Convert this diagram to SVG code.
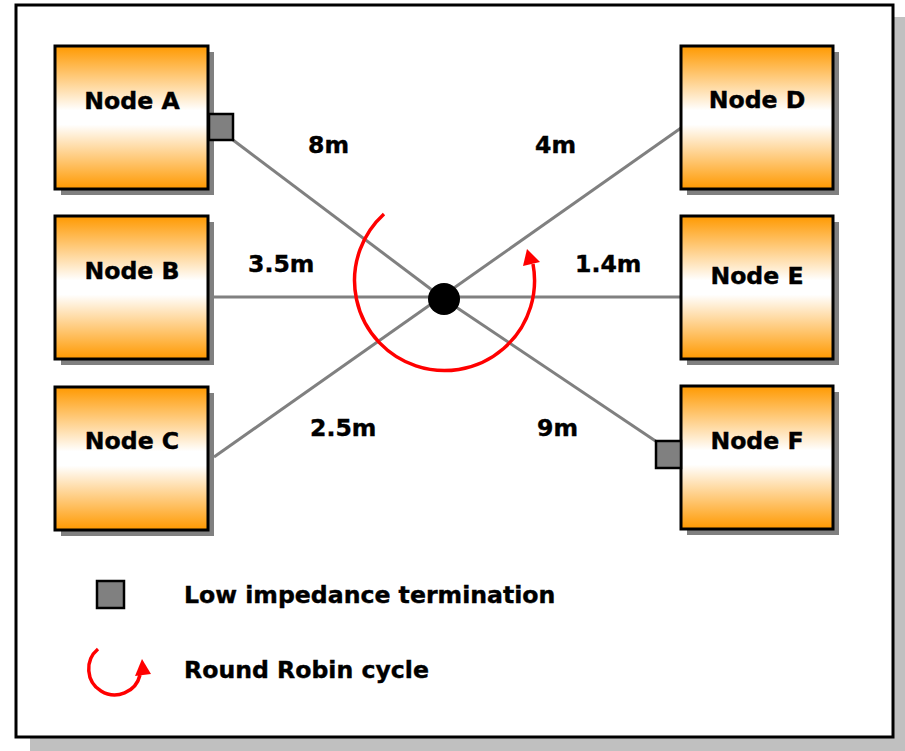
<svg xmlns="http://www.w3.org/2000/svg" width="905" height="751" viewBox="0 0 905 751">
<defs>
<linearGradient id="og" x1="0" y1="0" x2="0" y2="1">
<stop offset="0" stop-color="#ff9900"/>
<stop offset="0.45" stop-color="#ffffff"/>
<stop offset="0.55" stop-color="#ffffff"/>
<stop offset="1" stop-color="#ff9900"/>
</linearGradient>
</defs>
<style>
.shadow{fill:#808080}
.box{fill:url(#og);stroke:#000;stroke-width:3}
.term{fill:#808080;stroke:#000;stroke-width:2.5}
.lbl{font-family:"DejaVu Sans",Verdana,sans-serif;font-weight:bold;font-size:23.6px;fill:#000;stroke:#000;stroke-width:0.4}
.nt{text-anchor:middle}
.wire{stroke:#808080;stroke-width:3;fill:none}
.rr{stroke:#ff0000;stroke-width:3.5;fill:none}
</style>
<rect x="30" y="17" width="875" height="734" fill="#c0c0c0"/>
<rect x="16" y="5" width="877" height="732" fill="#fff" stroke="#000" stroke-width="3"/>

<g id="connectors">
<line class="wire" x1="233" y1="140" x2="444" y2="299"/>
<line class="wire" x1="209" y1="297" x2="681" y2="297"/>
<line class="wire" x1="214" y1="457" x2="681" y2="128"/>
<line class="wire" x1="444" y1="299" x2="657" y2="442"/>
<circle cx="444" cy="299" r="16" fill="#000"/>
<path class="rr" d="M384,214 A90,90 0 1,0 533,264"/>
<polygon points="527,249 523,266 540,262" fill="#ff0000"/>
</g>

<g id="nodeA">
<rect class="shadow" x="61" y="52" width="153" height="143"/>
<rect class="box" x="55" y="46" width="153" height="143"/>
<text class="lbl nt" x="132" y="109">Node A</text>
<rect class="term" x="209" y="114" width="24" height="26"/>
</g>
<g id="nodeB">
<rect class="shadow" x="61" y="222" width="153" height="143"/>
<rect class="box" x="55" y="216" width="153" height="143"/>
<text class="lbl nt" x="132" y="279">Node B</text>
</g>
<g id="nodeC">
<rect class="shadow" x="61" y="393" width="153" height="143"/>
<rect class="box" x="55" y="387" width="153" height="143"/>
<text class="lbl nt" x="132" y="449">Node C</text>
</g>
<g id="nodeD">
<rect class="shadow" x="687" y="52" width="152" height="143"/>
<rect class="box" x="681" y="46" width="152" height="143"/>
<text class="lbl nt" x="757" y="108">Node D</text>
</g>
<g id="nodeE">
<rect class="shadow" x="687" y="222" width="152" height="143"/>
<rect class="box" x="681" y="216" width="152" height="143"/>
<text class="lbl nt" x="757" y="284">Node E</text>
</g>
<g id="nodeF">
<rect class="shadow" x="687" y="392" width="152" height="143"/>
<rect class="box" x="681" y="386" width="152" height="143"/>
<text class="lbl nt" x="757" y="449">Node F</text>
<rect class="term" x="656" y="441" width="25" height="27"/>
</g>

<g id="labels">
<text class="lbl" x="308" y="153">8m</text>
<text class="lbl" x="535" y="153">4m</text>
<text class="lbl" x="248" y="272">3.5m</text>
<text class="lbl" x="575" y="272">1.4m</text>
<text class="lbl" x="310" y="436">2.5m</text>
<text class="lbl" x="537" y="436">9m</text>
</g>

<g id="legend">
<rect class="term" x="97" y="581" width="27" height="27"/>
<text class="lbl" x="184" y="603">Low impedance termination</text>
<path class="rr" d="M98,649 A26,26 0 1,0 140,675"/>
<polygon points="142,659 135,676 151,674" fill="#ff0000"/>
<text class="lbl" x="184" y="678">Round Robin cycle</text>
</g>
</svg>
